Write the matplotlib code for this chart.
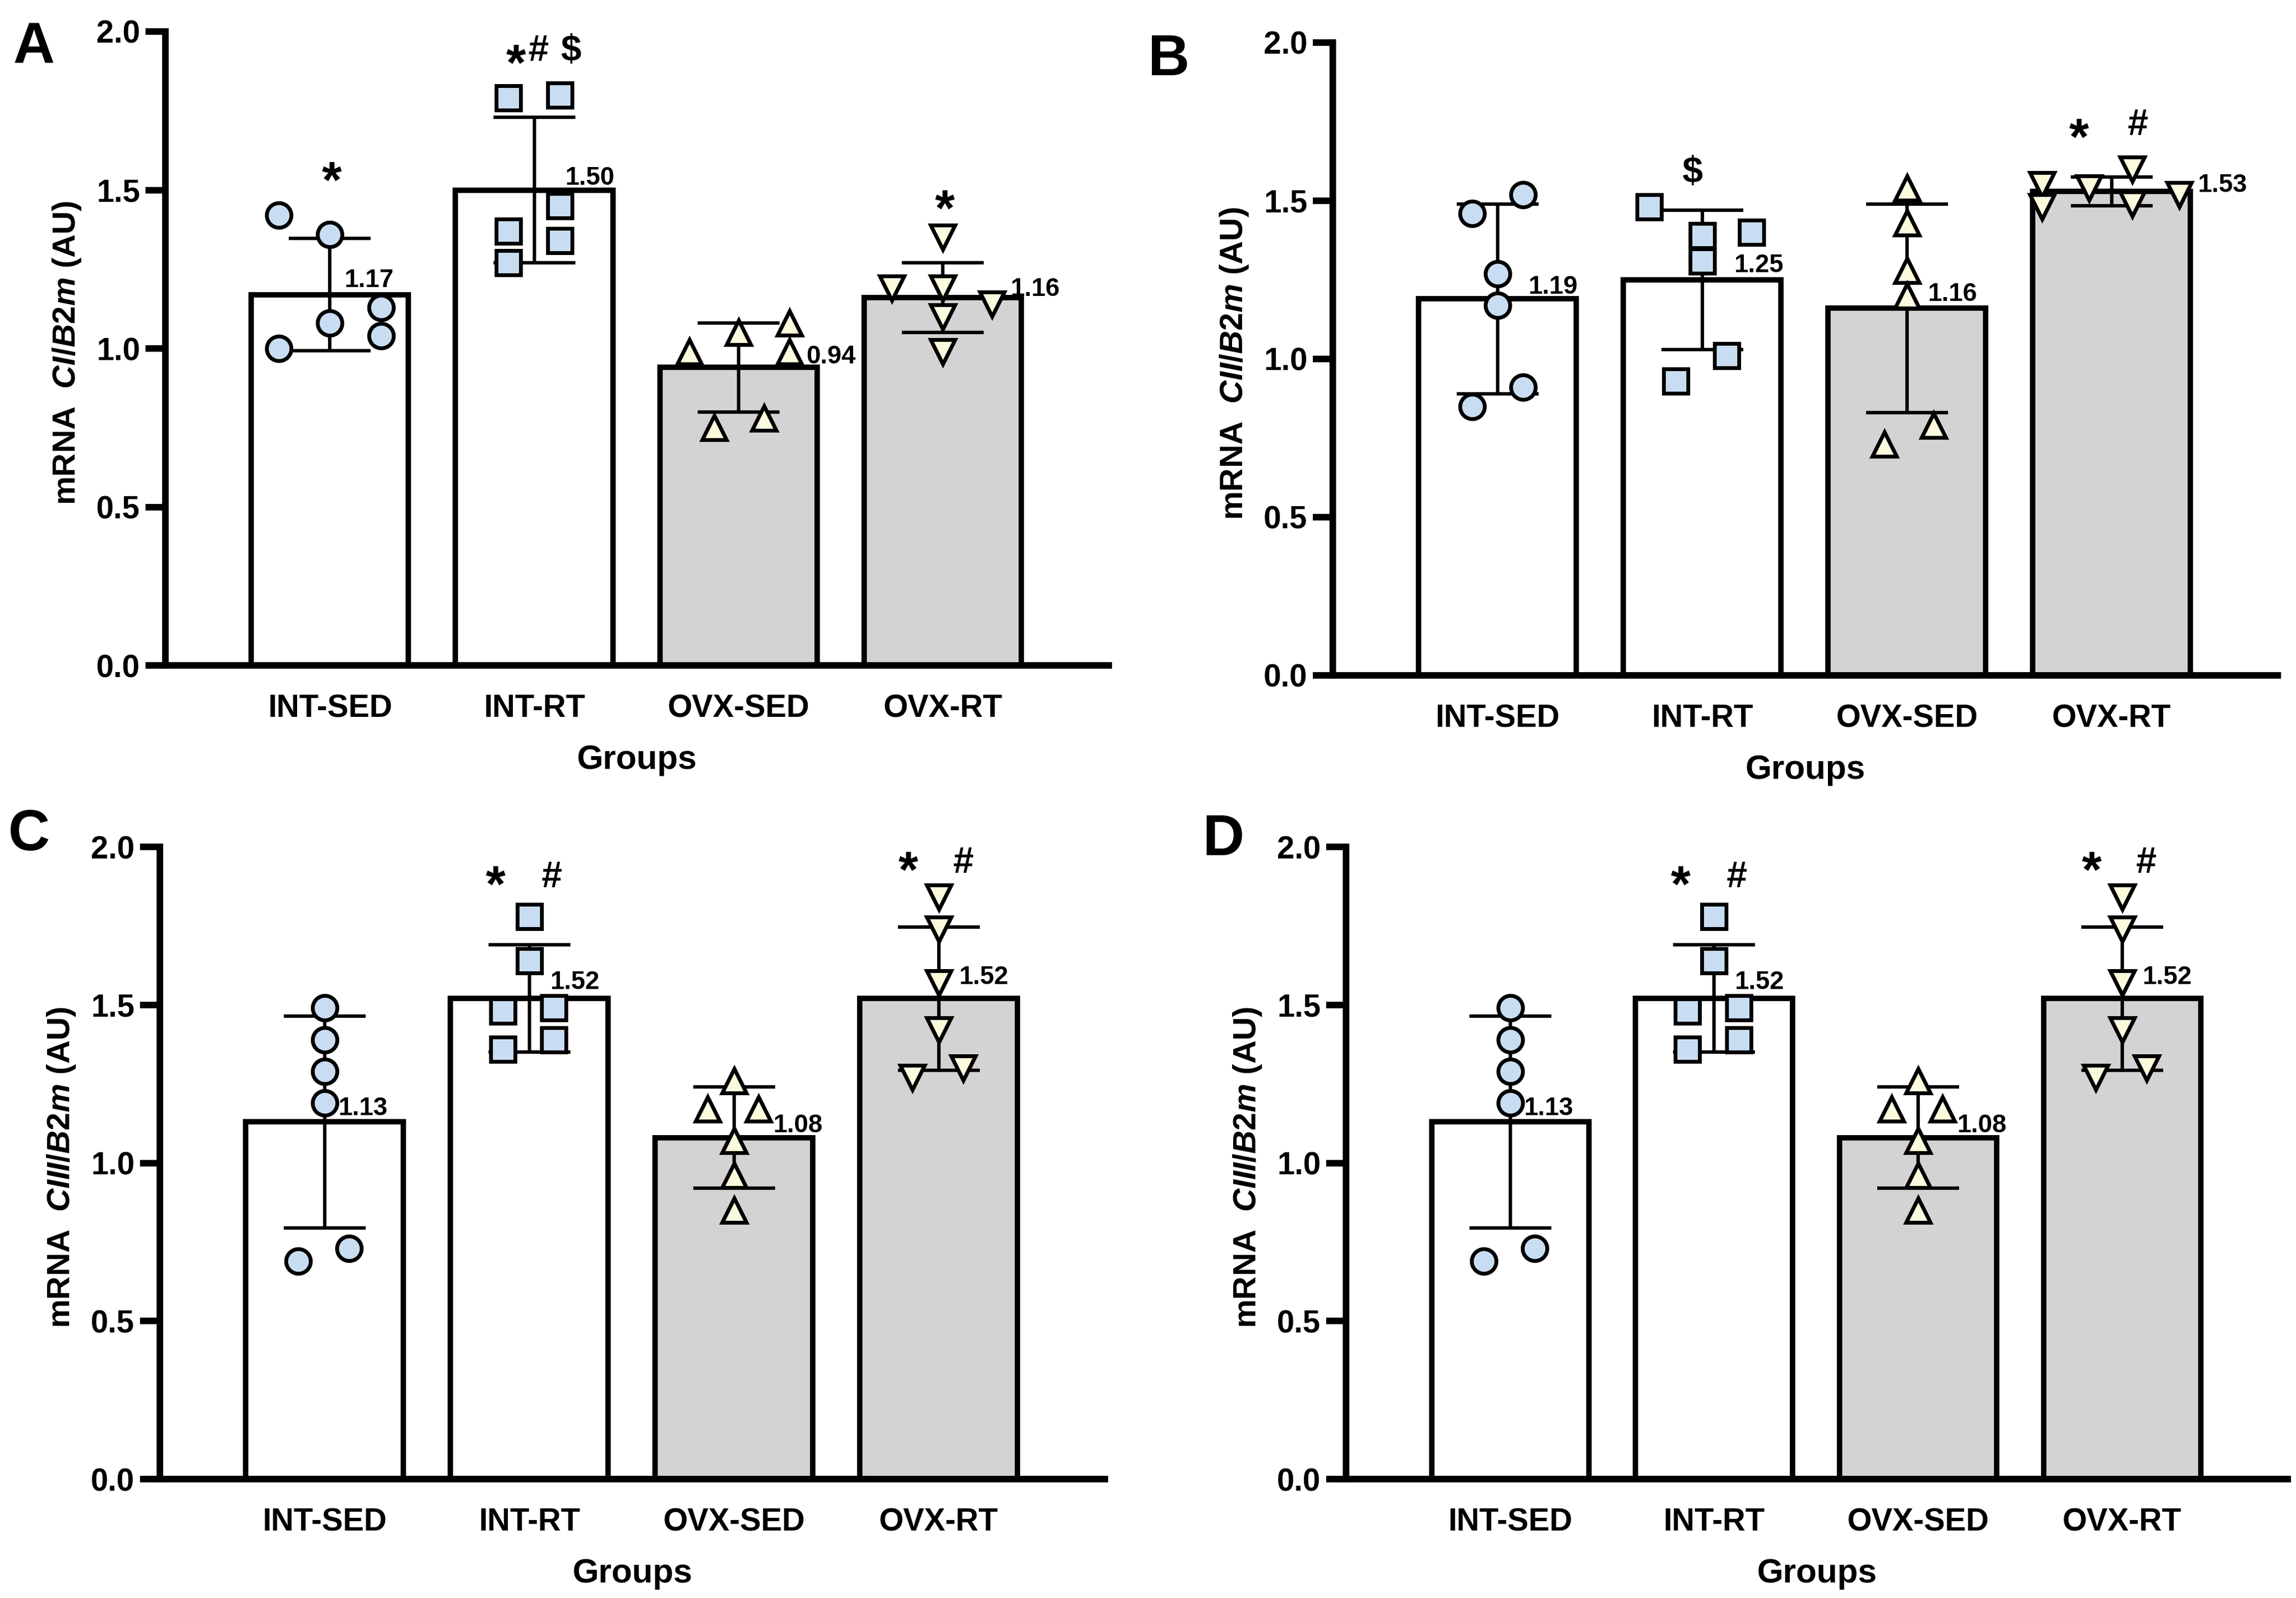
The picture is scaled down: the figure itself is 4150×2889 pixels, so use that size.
import matplotlib
matplotlib.use('Agg')
import matplotlib.pyplot as plt
import numpy as np

plt.rcParams['font.family'] = ['Liberation Sans', 'DejaVu Sans']
plt.rcParams['font.weight'] = 'bold'
plt.rcParams['mathtext.fontset'] = 'custom'
plt.rcParams['mathtext.it'] = 'Liberation Sans:italic:bold'
plt.rcParams['mathtext.rm'] = 'Liberation Sans:bold'
plt.rcParams['mathtext.bf'] = 'Liberation Sans:bold'

# ---------------- data ----------------
groups = ['INT-SED', 'INT-RT', 'OVX-SED', 'OVX-RT']
yticks = [0.0, 0.5, 1.0, 1.5, 2.0]

# Panel A : CI/B2m
a_means = [1.17, 1.50, 0.94, 1.16]
a_sd = [0.177, 0.23, 0.14, 0.11]
a_int_sed = [1.42, 1.36, 1.13, 1.08, 1.04, 1.00]
a_int_rt = [1.79, 1.80, 1.45, 1.37, 1.34, 1.27]
a_ovx_sed = [0.99, 1.05, 1.08, 0.99, 0.75, 0.78]
a_ovx_rt = [1.19, 1.35, 1.19, 1.10, 0.99, 1.14]
a_sig = [(0, '*'), (1, '*'), (1, '#'), (1, '$'), (3, '*')]

# Panel B : CII/B2m
b_means = [1.19, 1.25, 1.16, 1.53]
b_sd = [0.30, 0.22, 0.33, 0.046]
b_int_sed = [1.52, 1.46, 1.27, 1.17, 0.91, 0.85]
b_int_rt = [1.48, 1.40, 1.39, 1.31, 1.01, 0.93]
b_ovx_sed = [1.54, 1.43, 1.28, 1.20, 0.79, 0.73]
b_ovx_rt = [1.55, 1.54, 1.60, 1.52, 1.48, 1.49]
b_sig = [(1, '$'), (3, '*'), (3, '#')]

# Panel C and D : CIII/B2m
c_means = [1.13, 1.52, 1.08, 1.52]
c_sd = [0.335, 0.17, 0.16, 0.227]
c_int_sed = [1.49, 1.39, 1.29, 1.19, 0.73, 0.69]
c_int_rt = [1.78, 1.64, 1.48, 1.49, 1.36, 1.39]
c_ovx_sed = [1.26, 1.17, 1.17, 1.07, 0.96, 0.85]
c_ovx_rt = [1.84, 1.74, 1.57, 1.42, 1.27, 1.30]
c_sig = [(1, '*'), (1, '#'), (3, '*'), (3, '#')]

ylabels = {'A': 'mRNA  $\\mathit{CI/B2m}$ (AU)',
           'B': 'mRNA  $\\mathit{CII/B2m}$ (AU)',
           'C': 'mRNA  $\\mathit{CIII/B2m}$ (AU)',
           'D': 'mRNA  $\\mathit{CIII/B2m}$ (AU)'}

# ---------------- layout / style ----------------
W, H = 4150, 2889
DPI = 100
PX = 72.0 / DPI  # points per pixel

bar_colors = ['white', 'white', '#d3d3d3', '#d3d3d3']
marker_shapes = ['o', 's', '^', 'v']
marker_fill = ['#c9ddf2', '#c9ddf2', '#fcfadc', '#fcfadc']
marker_size = [32, 31, 32, 32]

# axes box in pixels: left x, y of 2.0, right x, y of 0.0
boxes = {'A': (299, 57, 2004, 1203),
         'B': (2409, 77, 4117, 1221),
         'C': (289, 1531, 1997, 2674),
         'D': (2433, 1531, 4135, 2674)}
letters = {'A': (23, 113), 'B': (2075, 136), 'C': (15, 1537), 'D': (2174, 1546)}

# horizontal point offsets (in category units) for each group of each panel
off_a = [[-0.25, 0, 0.25, 0, 0.25, -0.25],
         [-0.125, 0.125, 0.125, -0.125, 0.125, -0.125],
         [-0.24, 0, 0.25, 0.25, -0.12, 0.125],
         [-0.25, 0, 0, 0, 0, 0.24]]
off_b = [[0.125, -0.125, 0, 0, 0.125, -0.125],
         [-0.26, 0.24, 0, 0, 0.12, -0.13],
         [0, 0, 0, 0, 0.13, -0.11],
         [-0.34, -0.11, 0.10, 0.33, -0.34, 0.10]]
off_c = [[0, 0, 0, 0, 0.12, -0.13],
         [0, 0, -0.13, 0.12, -0.13, 0.12],
         [0, -0.13, 0.12, 0, 0, 0],
         [0, 0, 0, 0, -0.13, 0.12]]

# value-label positions (dx, y centre)
lab_a = [(0.07, 1.222), (0.15, 1.546), (0.33, 0.981), (0.33, 1.195)]
lab_b = [(0.15, 1.235), (0.155, 1.303), (0.10, 1.213), (0.42, 1.557)]
lab_c = [(0.065, 1.18), (0.10, 1.579), (0.19, 1.126), (0.10, 1.595)]

# significance mark positions (dx, y centre)
sigpos_a = [(0.01, 1.57), (-0.09, 1.94), (0.02, 1.95), (0.18, 1.95), (0.01, 1.48)]
sigpos_b = [(-0.05, 1.60), (-0.16, 1.74), (0.13, 1.75)]
sigpos_c = [(-0.165, 1.92), (0.11, 1.915), (-0.15, 1.965), (0.12, 1.96)]

panels = {
    'A': (a_means, a_sd, [a_int_sed, a_int_rt, a_ovx_sed, a_ovx_rt], off_a, lab_a, a_sig, sigpos_a),
    'B': (b_means, b_sd, [b_int_sed, b_int_rt, b_ovx_sed, b_ovx_rt], off_b, lab_b, b_sig, sigpos_b),
    'C': (c_means, c_sd, [c_int_sed, c_int_rt, c_ovx_sed, c_ovx_rt], off_c, lab_c, c_sig, sigpos_c),
    'D': (c_means, c_sd, [c_int_sed, c_int_rt, c_ovx_sed, c_ovx_rt], off_c, lab_c, c_sig, sigpos_c),
}

XLIM = (-0.805, 3.812)
BAR_W = 0.77
SPINE_LW = 8.5
BAR_LW = 7
ERR_LW = 4.5
CAP = 53

fig = plt.figure(figsize=(W / DPI, H / DPI), dpi=DPI)
fig.patch.set_facecolor('white')

for key, (means, sds, pts, offs, labs, sigs, sigpos) in panels.items():
    lx, ty, rx, by = boxes[key]
    ax = fig.add_axes([lx / W, 1 - by / H, (rx - lx) / W, (by - ty) / H])
    x = np.arange(len(groups))
    ax.bar(x, means, width=BAR_W, color=bar_colors, edgecolor='black',
           linewidth=BAR_LW, zorder=2)
    ax.errorbar(x, means, yerr=sds, fmt='none', ecolor='black', elinewidth=ERR_LW,
                capsize=CAP, capthick=ERR_LW, zorder=3)
    for i in range(len(groups)):
        xs = x[i] + np.array(offs[i])
        ax.plot(xs, pts[i], linestyle='none', marker=marker_shapes[i],
                ms=marker_size[i], mfc=marker_fill[i], mec='black', mew=5,
                zorder=5, clip_on=False)
        dx, yc = labs[i]
        ax.annotate(f'{means[i]:.2f}', xy=(x[i] + dx, yc), xytext=(0, -0.36 * 33),
                    textcoords='offset points', ha='left', va='baseline',
                    fontsize=33, fontweight='bold', zorder=6, annotation_clip=False)
    for (gi, s), (dx, yc) in zip(sigs, sigpos):
        fs = 66 if s == '*' else 48
        dy = -0.575 * fs if s == '*' else -0.36 * fs
        ax.annotate(s, xy=(gi + dx, yc), xytext=(0, dy), textcoords='offset points',
                    ha='center', va='baseline', fontsize=fs, fontweight='bold',
                    annotation_clip=False, zorder=6)

    ax.set_xlim(*XLIM)
    ax.set_ylim(0, 2.0)
    ax.set_yticks(yticks)
    ax.set_yticklabels([f'{t:.1f}' for t in yticks])
    ax.set_xticks(x)
    ax.set_xticklabels(groups)
    for sp in ['top', 'right']:
        ax.spines[sp].set_visible(False)
    for sp in ['left', 'bottom']:
        ax.spines[sp].set_linewidth(SPINE_LW)
    ax.tick_params(axis='y', length=26, width=SPINE_LW, pad=7, labelsize=41)
    ax.tick_params(axis='x', length=0, pad=37, labelsize=41)
    ax.patch.set_alpha(0)

    ax.annotate('Groups', xy=(0.5, 0), xycoords='axes fraction',
                xytext=(0, -187 * PX), textcoords='offset points',
                ha='center', va='baseline', fontsize=44, fontweight='bold')
    fig.text((lx - 178) / W, 1 - ((ty + by) / 2 + 8) / H, ylabels[key],
             rotation=90, ha='center', va='center', fontsize=42, fontweight='bold')
    lxx, lyy = letters[key]
    fig.text(lxx / W, 1 - lyy / H, key, ha='left', va='baseline',
             fontsize=75, fontweight='bold')

fig.savefig('out.png', dpi=DPI, facecolor='white')
